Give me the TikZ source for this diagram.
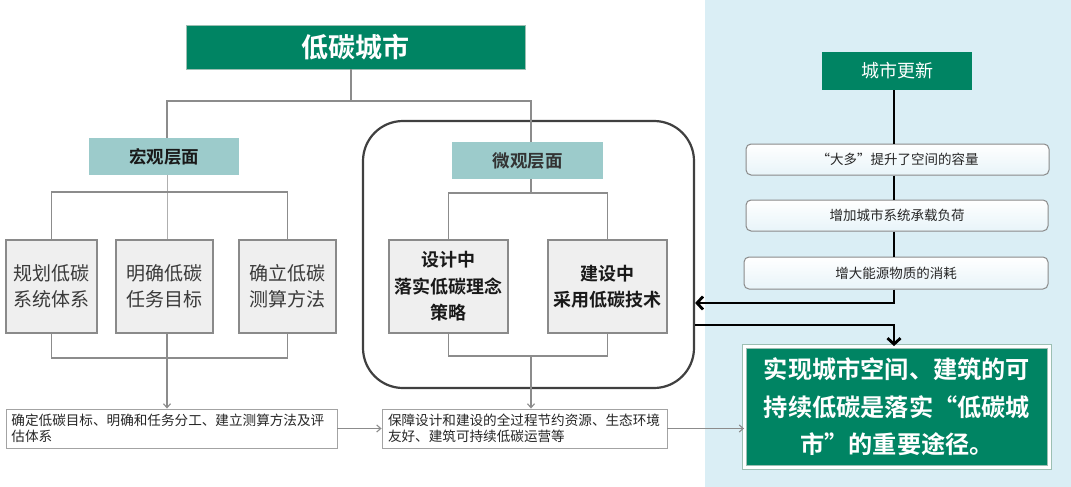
\documentclass[tikz,border=0pt]{standalone}
\usepackage{fontspec}
\setmainfont{Noto Sans CJK SC}[BoldFont={Noto Sans CJK SC Bold}]
\usetikzlibrary{arrows.meta}
\definecolor{dgreen}{HTML}{008463}
\definecolor{teal}{HTML}{9CCBCB}
\definecolor{panel}{HTML}{DAEEF5}
\definecolor{gfill}{HTML}{EFEFEF}
\definecolor{gedge}{HTML}{8A8A8A}
\definecolor{lgray}{HTML}{8C8C8C}
\definecolor{tgray}{HTML}{3A3A3A}
\definecolor{rfill}{HTML}{E8F4F9}
\definecolor{fedge}{HTML}{9CBFB3}
\tikzset{
  gl/.style={draw=lgray, line width=1.1pt},
  glight/.style={draw=lgray!70, line width=1pt},
  garrow/.style={gl, -{Straight Barb[length=4pt,width=7pt]}},
  bl/.style={draw=black, line width=2.8pt},
  barrow/.style={bl, -{Straight Barb[length=6pt,width=13pt]}},
  titlebox/.style={fill=dgreen, draw=fedge, line width=0.8pt, text=white, inner sep=0pt,
    font=\bfseries\fontsize{27}{30}\selectfont},
  levelbox/.style={fill=teal, inner sep=0pt, text=black!90,
    font=\bfseries\fontsize{17.5}{20}\selectfont},
  gbox/.style={fill=gfill, draw=gedge, line width=1.4pt, inner sep=0pt, align=center,
    text=tgray, minimum height=93pt, font=\fontsize{19}{26}\selectfont},
  dbox/.style={gbox, text=black!90, font=\bfseries\fontsize{18}{26.5}\selectfont},
  tbox/.style={fill=white, draw=lgray!80, line width=0.9pt, align=left, text=black!85,
    inner xsep=5.5pt, inner ysep=0pt, minimum height=39pt, font=\fontsize{13.6}{15.5}\selectfont},
  citybox/.style={fill=dgreen, text=white, inner sep=0pt,
    font=\fontsize{18}{22}\selectfont},
  rbox/.style={top color=white, bottom color=rfill, draw=gedge, line width=1pt,
    rounded corners=5pt, inner sep=0pt, text=black!85, font=\fontsize{13.5}{16}\selectfont},
  finbox/.style={fill=dgreen, draw=fedge, double=white, double distance=3pt, line width=0.9pt,
    text=white, align=center, inner sep=0pt,
    font=\bfseries\fontsize{24.2}{37.5}\selectfont},
  groupbox/.style={draw=black!75, line width=2.2pt, rounded corners=40pt, inner sep=0pt}
}
\begin{document}
\begin{tikzpicture}[x=1pt,y=-1pt]
\useasboundingbox (0,0) rectangle (1071,487);
\fill[white] (0,0) rectangle (1071,487);
\fill[panel] (705,0) rectangle (1071,487);

% group frame
\node[groupbox, minimum width=331pt, minimum height=267pt] (grp) at (528.5,254.5) {};

% left tree
\node[titlebox, minimum width=339pt, minimum height=44pt] (title) at (355.5,47) {低碳城市};
\node[levelbox, minimum width=150pt, minimum height=37pt] (macro) at (164,156.5) {宏观层面};
\node[levelbox, minimum width=151pt, minimum height=37pt, text=black!80] (micro) at (527.5,160.5) {微观层面};

\node[gbox, minimum width=91pt] (b1) at (51.5,286.5) {规划低碳\\系统体系};
\node[gbox, minimum width=97pt] (b2) at (164.5,286.5) {明确低碳\\任务目标};
\node[gbox, minimum width=97pt] (b3) at (287.5,286.5) {确立低碳\\测算方法};

\node[dbox, minimum width=119pt] (d1) at (448.5,286.5) {设计中\\落实低碳理念\\策略};
\node[dbox, minimum width=119pt] (d2) at (607.5,286.5) {建设中\\采用低碳技术};

\node[tbox, text width=320pt] (t1) at (171.5,428.5) {确定低碳目标、明确和任务分工、建立测算方法及评\\估体系};
\node[tbox, text width=273pt, inner xsep=6pt] (t2) at (524.5,428.5) {保障设计和建设的全过程节约资源、生态环境\\友好、建筑可持续低碳运营等};

% right side
\node[citybox, minimum width=150pt, minimum height=38pt] (city) at (897,71) {城市更新};
\node[rbox, minimum width=303pt, minimum height=31pt] (r1) at (897.5,159.5) {“大多”提升了空间的容量};
\node[rbox, minimum width=302pt, minimum height=31pt] (r2) at (897,215.5) {增加城市系统承载负荷};
\node[rbox, minimum width=304pt, minimum height=32pt] (r3) at (896,273) {增大能源物质的消耗};
\node[finbox, minimum width=305pt, minimum height=121pt] (final) at (897,407)
  {实现城市空间、建筑的可\\持续低碳是落实“低碳城\\市”的重要途径。};

% coordinates
\coordinate (j1) at (351,101);
\coordinate (m1) at (167,101);
\coordinate (m2) at (531,101);
\coordinate (hy) at (0,192);
\coordinate (ly) at (0,358);
\coordinate (my) at (0,193);
\coordinate (ny) at (0,356);
\coordinate (cx) at (894,0);
\coordinate (ay) at (0,303);
\coordinate (by) at (0,325);

% left connectors
\draw[gl] (title.south -| j1) -- (j1);
\draw[gl] (macro.north -| m1) -- (m1) -- (m2) -- (micro.north -| m2);
\draw[glight] (macro.south -| m1) -- (b2.north -| m1);
\draw[gl] (b1.north) -- (b1.north |- hy) -- (b3.north |- hy) -- (b3.north);
\draw[gl] (b1.south) -- (b1.south |- ly) -- (b3.south |- ly) -- (b3.south);
\draw[garrow] (b2.south -| m1) -- (t1.north -| m1);
\draw[gl] (micro.south -| m2) -- (m2 |- my);
\draw[gl] (d1.north) |- (d2.north |- my) -- (d2.north);
\draw[gl] (d1.south) |- (d2.south |- ny) -- (d2.south);
\draw[garrow] (m2 |- ny) -- (m2 |- t2.north);
\draw[garrow] (t1.east) -- (t2.west);
\draw[garrow] (t2.east) -- (t2.east -| final.west);

% right connectors
\draw[bl] (city.south -| cx) -- (r1.north -| cx);
\draw[bl] (r1.south -| cx) -- (r2.north -| cx);
\draw[bl] (r2.south -| cx) -- (r3.north -| cx);
\draw[barrow] (r3.south -| cx) |- (grp.east |- ay);
\draw[barrow] (grp.east |- by) -| (final.north -| cx);
\end{tikzpicture}
\end{document}
